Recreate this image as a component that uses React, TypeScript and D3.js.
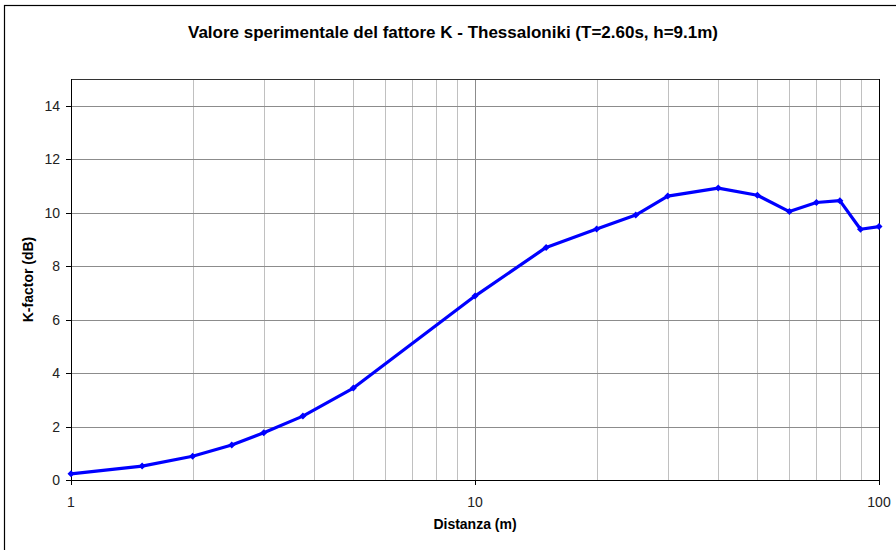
import React from "react";
import * as d3 from "d3";

// Distanza (m)
const distances = [1, 1.5, 2, 2.5, 3, 3.75, 5, 10, 15, 20, 25, 30, 40, 50, 60, 70, 80, 90, 100];
// K-factor (dB)
const kFactor = [0.23, 0.52, 0.89, 1.31, 1.77, 2.39, 3.44, 6.88, 8.7, 9.39, 9.91, 10.62, 10.92, 10.65, 10.04, 10.38, 10.45, 9.38, 9.48];
const yTicks = [0, 2, 4, 6, 8, 10, 12, 14];
const xTicks = [1, 10, 100];

const App = () => {
  const width = 896;
  const height = 550;
  const margin = { top: 79, right: 17, bottom: 70, left: 71 };
  const font = "Arial, 'Liberation Sans', sans-serif";

  const xScale = d3
    .scaleLog()
    .domain([1, 100])
    .range([margin.left, width - margin.right]);

  const yScale = d3
    .scaleLinear()
    .domain([0, 15])
    .range([height - margin.bottom, margin.top]);

  // minor log grid lines 2..9, 20..90
  const minor: number[] = [];
  [1, 10].forEach((dec) => {
    for (let m = 2; m <= 9; m++) minor.push(m * dec);
  });

  const pts: [number, number][] = distances.map((d, i) => [d, kFactor[i]]);
  const line = d3
    .line<[number, number]>()
    .x((d) => xScale(d[0]))
    .y((d) => yScale(d[1]));

  const x0 = xScale(1);
  const x1 = xScale(100);
  const y0 = yScale(0);
  const y1 = yScale(15);

  return (
    <svg width={width} height={height} style={{ position: "absolute", left: 0, top: 0 }}>
      <rect x={0} y={0} width={width} height={height} fill="white" />
      <rect x={4.5} y={5.5} width={width} height={height} fill="none" stroke="#000" strokeWidth={1.2} />

      <text x={453} y={38} textAnchor="middle" fontFamily={font} fontWeight="bold" fontSize={17} fill="#000">
        Valore sperimentale del fattore K - Thessaloniki (T=2.60s, h=9.1m)
      </text>

      {/* grid */}
      <g>
        {minor.map((m) => (
          <line key={"v" + m} x1={Math.round(xScale(m)) + 0.5} x2={Math.round(xScale(m)) + 0.5} y1={y1} y2={y0} stroke="#c0c0c0" strokeWidth={1} />
        ))}
        <line x1={Math.round(xScale(10)) + 0.5} x2={Math.round(xScale(10)) + 0.5} y1={y1} y2={y0} stroke="#8c8c8c" strokeWidth={1} />
        {yTicks.slice(1).map((t) => (
          <line key={"h" + t} x1={x0} x2={x1} y1={Math.round(yScale(t)) + 0.5} y2={Math.round(yScale(t)) + 0.5} stroke="#8c8c8c" strokeWidth={1} />
        ))}
      </g>

      {/* plot border */}
      <line x1={x0} x2={x1} y1={y1 + 0.5} y2={y1 + 0.5} stroke="#333" strokeWidth={1} />
      <line x1={x1 + 0.5} x2={x1 + 0.5} y1={y1} y2={y0} stroke="#000" strokeWidth={1} />

      {/* axes */}
      <line x1={x0 + 0.5} x2={x0 + 0.5} y1={y1} y2={y0} stroke="#000" strokeWidth={1} />
      <line x1={x0} x2={x1 + 1} y1={y0 + 0.5} y2={y0 + 0.5} stroke="#000" strokeWidth={1} />

      {yTicks.map((t) => (
        <g key={"yt" + t}>
          <line x1={x0 - 5} x2={x0} y1={Math.round(yScale(t)) + 0.5} y2={Math.round(yScale(t)) + 0.5} stroke="#000" />
          <text x={x0 - 11} y={yScale(t) + 5} textAnchor="end" fontFamily={font} fontSize={14} fill="#222">
            {t}
          </text>
        </g>
      ))}

      {xTicks.map((t) => (
        <g key={"xt" + t}>
          <line x1={Math.round(xScale(t)) + 0.5} x2={Math.round(xScale(t)) + 0.5} y1={y0} y2={y0 + 5} stroke="#000" />
          <text x={xScale(t)} y={y0 + 27} textAnchor="middle" fontFamily={font} fontSize={14} fill="#222">
            {t}
          </text>
        </g>
      ))}

      <text x={(x0 + x1) / 2} y={529} textAnchor="middle" fontFamily={font} fontWeight="bold" fontSize={14} fill="#000">
        Distanza (m)
      </text>
      <text
        transform={`translate(33, ${(y0 + y1) / 2}) rotate(-90)`}
        textAnchor="middle"
        fontFamily={font}
        fontWeight="bold"
        fontSize={14}
        fill="#000"
      >
        K-factor (dB)
      </text>

      {/* series */}
      <path d={line(pts) ?? ""} fill="none" stroke="#0000ff" strokeWidth={3.2} strokeLinejoin="round" />
      {pts.map((d, i) => (
        <path
          key={"m" + i}
          transform={`translate(${xScale(d[0])},${yScale(d[1])})`}
          d="M0,-3.5L3.5,0L0,3.5L-3.5,0Z"
          fill="#0000ff"
        />
      ))}
    </svg>
  );
};

export default App;
